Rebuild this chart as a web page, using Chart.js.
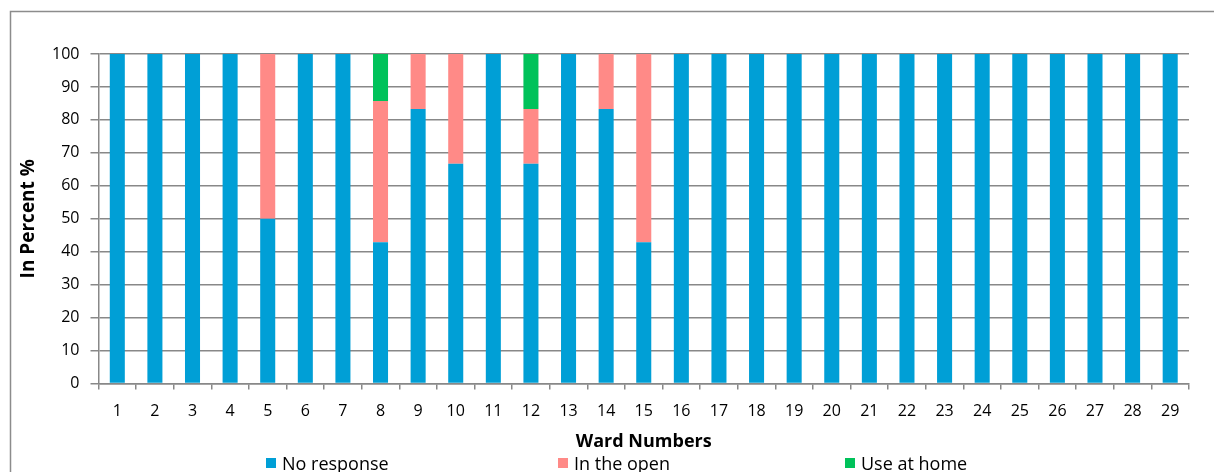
<!DOCTYPE html>
<html>
<head>
<meta charset="utf-8">
<title>Ward Numbers</title>
<script src="https://cdn.jsdelivr.net/npm/chart.js@4.4.0/dist/chart.umd.min.js"></script>
<style>
  html, body { margin: 0; padding: 0; background: #fff; }
  #wrap { width: 1214px; height: 472px; position: relative; }
</style>
</head>
<body>
<div id="wrap"><canvas id="c"></canvas></div>
<script>
// Ward categories
const wards = ['1','2','3','4','5','6','7','8','9','10','11','12','13','14','15',
               '16','17','18','19','20','21','22','23','24','25','26','27','28','29'];

// Share of answers per ward, in percent
const noResponse = [100,100,100,100,50,100,100,42.86,83.33,66.67,100,66.67,100,83.33,42.86,
                    100,100,100,100,100,100,100,100,100,100,100,100,100,100];
const inTheOpen  = [0,0,0,0,50,0,0,42.86,16.67,33.33,0,16.67,0,16.67,57.14,
                    0,0,0,0,0,0,0,0,0,0,0,0,0,0];
const useAtHome  = [0,0,0,0,0,0,0,14.28,0,0,0,16.66,0,0,0,
                    0,0,0,0,0,0,0,0,0,0,0,0,0,0];

const seriesNames = ['No response', 'In the open', 'Use at home'];
const yTicks = [0,10,20,30,40,50,60,70,80,90,100];

const COLORS = ['#009FD6', '#FF8A87', '#00C25A'];
const GRID = '#888888';
const FONT = '"Open Sans", "Liberation Sans", sans-serif';

// Outer frame of the chart object
const framePlugin = {
  id: 'frame',
  beforeDraw(chart) {
    const ctx = chart.ctx;
    ctx.save();
    ctx.fillStyle = '#fff';
    ctx.fillRect(0, 0, chart.width, chart.height);
    ctx.strokeStyle = '#8c8c8c';
    ctx.lineWidth = 1.5;
    ctx.strokeRect(10.5, 11.5, chart.width + 50, chart.height + 50);
    ctx.restore();
  }
};

// Legend row along the bottom edge
const legendPlugin = {
  id: 'bottomLegend',
  afterDraw(chart) {
    const ctx = chart.ctx;
    const boxX = [266, 558, 845];
    ctx.save();
    ctx.font = '18px ' + FONT;
    ctx.textBaseline = 'alphabetic';
    ctx.textAlign = 'left';
    chart.data.datasets.forEach((ds, i) => {
      ctx.fillStyle = ds.backgroundColor;
      ctx.fillRect(boxX[i], 458, 10, 10);
      ctx.fillStyle = '#000';
      ctx.fillText(ds.label, boxX[i] + 16, 470);
    });
    ctx.restore();
  }
};

new Chart(document.getElementById('c'), {
  type: 'bar',
  data: {
    labels: wards,
    datasets: [
      { label: seriesNames[0], data: noResponse, backgroundColor: COLORS[0] },
      { label: seriesNames[1], data: inTheOpen,  backgroundColor: COLORS[1] },
      { label: seriesNames[2], data: useAtHome,  backgroundColor: COLORS[2] }
    ]
  },
  options: {
    responsive: true,
    maintainAspectRatio: false,
    animation: false,
    devicePixelRatio: 1,
    layout: { padding: { left: 12, top: 54, right: 25, bottom: 0 } },
    datasets: { bar: { categoryPercentage: 1, barPercentage: 0.4 } },
    plugins: { legend: { display: false }, tooltip: { enabled: false } },
    scales: {
      x: {
        stacked: true,
        offset: true,
        grid: { offset: true, drawOnChartArea: false, drawTicks: true, tickLength: 6, color: GRID, lineWidth: 1.5 },
        border: { color: GRID, width: 1.5 },
        ticks: { color: '#000', font: { family: FONT, size: 16 }, padding: 12, maxRotation: 0, autoSkip: false },
        title: { display: true, text: 'Ward Numbers', color: '#000',
                 font: { family: FONT, size: 18, weight: 'bold' }, padding: { top: 0, bottom: 19 } },
        afterFit(s) { s.height = 88.5; }
      },
      y: {
        stacked: true,
        min: 0,
        max: 100,
        afterBuildTicks(s) { s.ticks = yTicks.map(v => ({ value: v })); },
        grid: { color: GRID, lineWidth: 1.5, tickLength: 8, drawTicks: true },
        border: { color: GRID, width: 1.5 },
        ticks: { color: '#000', font: { family: FONT, size: 16 }, padding: 11 },
        title: { display: true, text: 'In Percent %', color: '#000',
                 font: { family: FONT, size: 19, weight: 'bold' }, padding: { top: 5, bottom: 0 } },
        afterFit(s) { s.width = 86.5; }
      }
    }
  },
  plugins: [framePlugin, legendPlugin]
});
</script>
</body>
</html>
